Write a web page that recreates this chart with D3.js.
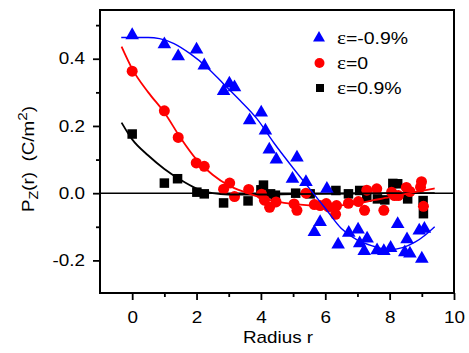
<!DOCTYPE html>
<html lang="en">
<head>
<meta charset="UTF-8">
<title>Pz(r) vs radius</title>
<script src="https://d3js.org/d3.v7.min.js"></script>
<style>
    body { margin: 0; background: #fff; }
    svg { display: block; }
    svg text { font-family: 'Liberation Sans', Arial, sans-serif; fill: #000; }
</style>
</head>
<body>
<svg width="469" height="353"></svg>
<script>
    // scatter data: [radius, Pz]
    const minusData = [[0, 0.47], [1.0, 0.443], [1.43, 0.407], [2.0, 0.427], [2.24, 0.38], [2.84, 0.304], [3.02, 0.326],
        [3.18, 0.315], [3.65, 0.217], [4.01, 0.24], [4.14, 0.186], [4.26, 0.13], [4.48, 0.1], [5.12, 0.106], [4.98, 0.043],
        [5.4, 0.033], [6.05, 0.013], [5.84, -0.086], [5.66, -0.116], [6.4, -0.153], [6.73, -0.118], [7.02, -0.108],
        [7.07, -0.149], [7.3, -0.135], [7.21, -0.172], [7.61, -0.17], [7.82, -0.172], [8.03, -0.163], [8.25, -0.092],
        [8.54, -0.137], [8.47, -0.176], [8.63, -0.18], [8.92, -0.111], [9.08, -0.106], [9.0, -0.195]];
    const zeroData = [[0, 0.363], [1.0, 0.245], [1.43, 0.166], [1.99, 0.09], [2.24, 0.08], [2.84, 0.012], [3.03, 0.03],
        [3.18, -0.01], [3.62, 0.011], [4.02, -0.003], [4.11, -0.021], [4.27, -0.042], [4.47, -0.026], [5.03, -0.032],
        [5.12, -0.051], [5.4, 0.0], [5.66, -0.034], [5.84, -0.037], [6.03, -0.031], [6.1, -0.041], [6.35, -0.037],
        [6.32, -0.063], [6.72, -0.03], [7.03, -0.025], [7.22, -0.051], [7.29, 0.009], [7.6, 0.013], [7.82, -0.051],
        [8.06, 0.003], [8.15, -0.007], [8.27, -0.007], [8.52, 0.017], [8.63, 0.005], [8.99, 0.034], [8.96, 0.018], [9.05, -0.039]];
    const plusData = [[0, 0.176], [1.0, 0.03], [1.41, 0.043], [2.01, 0.003], [2.24, -0.002], [2.84, -0.029], [3.6, -0.023],
        [4.08, 0.024], [4.0, 0.01], [4.3, -0.002], [4.45, -0.006], [5.08, 0.0], [5.53, -0.002], [6.33, 0.008], [6.72, -0.002],
        [7.07, 0.008], [7.29, -0.012], [7.62, -0.017], [7.85, -0.02], [8.1, 0.029], [8.25, 0.028], [8.56, -0.017],
        [9.04, -0.022], [9.05, -0.061]];

    // fitted curves
    const minusFit = [[-0.34, 0.463], [0.5, 0.463], [0.85, 0.46], [1.3, 0.445], [1.8, 0.415], [2.33, 0.374], [2.84, 0.325],
        [3.36, 0.275], [3.88, 0.221], [4.4, 0.15], [5.0, 0.075], [5.5, 0.015], [6.0, -0.045], [6.5, -0.105], [7.0, -0.14],
        [7.5, -0.158], [8.0, -0.168], [8.4, -0.162], [8.8, -0.145], [9.1, -0.125], [9.4, -0.1]];
    const zeroFit = [[-0.33, 0.436], [0, 0.37], [0.5, 0.3], [1.0, 0.24], [1.5, 0.165], [2.0, 0.1], [2.5, 0.055], [3.0, 0.023],
        [3.5, 0.003], [4.0, -0.013], [4.5, -0.025], [5.0, -0.032], [5.5, -0.036], [6.0, -0.038], [6.5, -0.036], [7.0, -0.03],
        [7.5, -0.021], [8.0, -0.012], [8.5, -0.002], [9.0, 0.007], [9.4, 0.014]];
    const plusFit = [[-0.33, 0.21], [0, 0.16], [0.5, 0.112], [1.0, 0.072], [1.5, 0.04], [2.0, 0.014], [2.5, 0.0],
        [3.0, -0.004], [4.0, -0.004], [5.0, -0.003], [6.0, -0.002], [7.0, -0.001], [8.0, 0.0], [9.4, 0.0]];

    const xMajor = [0, 2, 4, 6, 8, 10];
    const xMinor = [1, 3, 5, 7, 9];
    const yMajor = [-0.2, 0, 0.2, 0.4];
    const yMinor = [-0.1, 0.1, 0.3, 0.5];
    const legendLabels = ["-0.9%", "0", "0.9%"];

    const stretch = 1.18;   // the original font is drawn wide
    const svg = d3.select("svg");
    const plotL = 100, plotR = 454, plotT = 10, plotB = 293;

    const x = d3.scaleLinear().domain([-1, 10]).range([plotL, plotR]);
    const y = d3.scaleLinear().domain([-0.297, 0.545]).range([plotB, plotT]);

    // zero line
    svg.append("line")
        .attr("x1", plotL).attr("x2", plotR)
        .attr("y1", y(0)).attr("y2", y(0))
        .attr("stroke", "#000").attr("stroke-width", 1.6);

    function widen(g) {
        g.selectAll("text").each(function () {
            const t = d3.select(this);
            const tx = +t.attr("x") || 0;
            t.attr("x", tx / stretch).attr("transform", `scale(${stretch},1)`);
        });
    }

    // axes
    const xAxisG = svg.append("g").attr("transform", `translate(0,${plotB})`);
    xAxisG.call(d3.axisBottom(x).tickValues(xMajor).tickSize(7).tickSizeOuter(0).tickPadding(11.5).tickFormat(d3.format("d")));
    const xMinorG = svg.append("g").attr("transform", `translate(0,${plotB})`);
    xMinorG.call(d3.axisBottom(x).tickValues(xMinor).tickSize(4).tickSizeOuter(0).tickFormat(""));
    const yAxisG = svg.append("g").attr("transform", `translate(${plotL},0)`);
    yAxisG.call(d3.axisLeft(y).tickValues(yMajor).tickSize(7).tickSizeOuter(0).tickPadding(8)
        .tickFormat(d => d3.format(".1f")(d).replace("\u2212", "-")));
    const yMinorG = svg.append("g").attr("transform", `translate(${plotL},0)`);
    yMinorG.call(d3.axisLeft(y).tickValues(yMinor).tickSize(4).tickSizeOuter(0).tickFormat(""));
    svg.selectAll(".domain").remove();
    svg.selectAll(".tick line").attr("stroke-width", 1.8);
    svg.selectAll("g").attr("font-size", null).attr("font-family", null);
    svg.selectAll(".tick text").attr("font-size", 16);
    widen(xAxisG);
    widen(yAxisG);

    // frame
    svg.append("rect")
        .attr("x", plotL).attr("y", plotT)
        .attr("width", plotR - plotL).attr("height", plotB - plotT)
        .attr("fill", "none").attr("stroke", "#000").attr("stroke-width", 2);

    // markers
    const squareSize = 9.5;
    svg.append("g").selectAll("rect").data(plusData).join("rect")
        .attr("x", d => x(d[0]) - squareSize / 2).attr("y", d => y(d[1]) - squareSize / 2)
        .attr("width", squareSize).attr("height", squareSize)
        .attr("fill", "#000");

    const tri = d3.symbol().type(d3.symbolTriangle).size(80);
    svg.append("g").selectAll("path").data(minusData).join("path")
        .attr("d", tri)
        .attr("transform", d => `translate(${x(d[0])},${y(d[1])})`)
        .attr("fill", "#0000ff");

    svg.append("g").selectAll("circle").data(zeroData).join("circle")
        .attr("cx", d => x(d[0])).attr("cy", d => y(d[1])).attr("r", 5.5)
        .attr("fill", "#ff0000");

    // fit curves
    const line = d3.line().x(d => x(d[0])).y(d => y(d[1])).curve(d3.curveMonotoneX);
    svg.append("path").datum(plusFit).attr("d", line)
        .attr("fill", "none").attr("stroke", "#000").attr("stroke-width", 1.8);
    svg.append("path").datum(zeroFit).attr("d", line)
        .attr("fill", "none").attr("stroke", "#ff0000").attr("stroke-width", 1.8);
    svg.append("path").datum(minusFit).attr("d", line)
        .attr("fill", "none").attr("stroke", "#0000ff").attr("stroke-width", 1.4);

    // legend
    const legendY = [38, 63, 88];
    const legend = svg.append("g");
    legend.append("path").attr("d", d3.symbol().type(d3.symbolTriangle).size(62))
        .attr("transform", `translate(319,${legendY[0]})`).attr("fill", "#0000ff");
    legend.append("circle").attr("cx", 319.5).attr("cy", legendY[1]).attr("r", 5).attr("fill", "#ff0000");
    legend.append("rect").attr("x", 316).attr("y", legendY[2] - 4).attr("width", 8).attr("height", 8).attr("fill", "#000");
    legendLabels.forEach((lab, i) => {
        const t = legend.append("text")
            .attr("transform", `translate(337,${legendY[i] + 5.5}) scale(${stretch},1)`)
            .attr("font-size", 16.5);
        t.append("tspan").attr("font-family", "'Liberation Serif', serif").attr("font-size", 18).text("\u03b5");
        t.append("tspan").text("=" + lab);
    });

    // axis titles
    svg.append("text")
        .attr("transform", `translate(278,343) scale(${stretch},1)`)
        .attr("text-anchor", "middle").attr("font-size", 16)
        .text("Radius r");

    const yt = svg.append("text")
        .attr("transform", `translate(33.5,159) rotate(-90) scale(${stretch},1)`)
        .attr("text-anchor", "middle").attr("font-size", 16);
    yt.append("tspan").text("P");
    yt.append("tspan").attr("font-size", 12).attr("dy", 4).text("Z");
    yt.append("tspan").attr("dy", -4).text("(r)\u00a0\u00a0(C/m");
    yt.append("tspan").attr("font-size", 13).attr("dy", -7).text("2");
    yt.append("tspan").attr("dy", 7).text(")");
</script>
</body>
</html>
